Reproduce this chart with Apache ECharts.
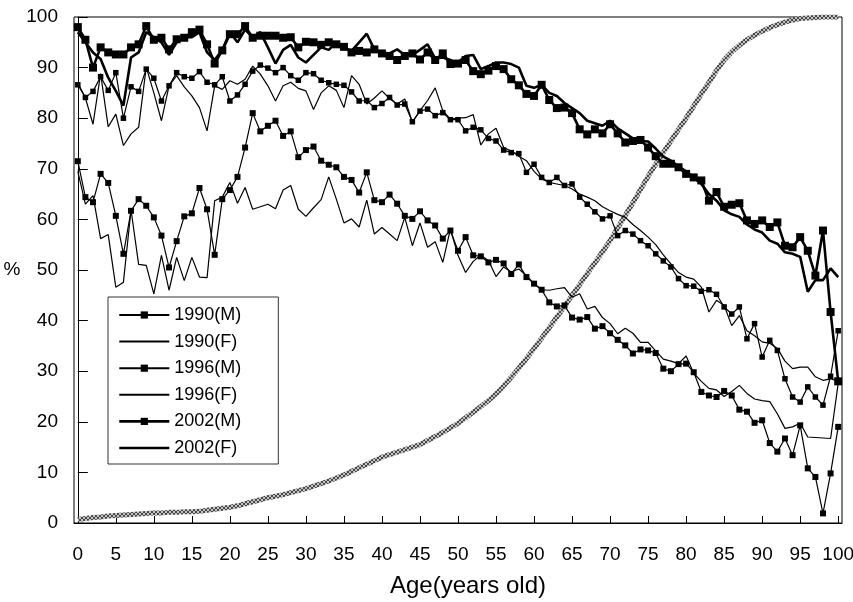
<!DOCTYPE html>
<html>
<head>
<meta charset="utf-8">
<script src="https://cdn.jsdelivr.net/npm/echarts@6/dist/echarts.min.js"></script>
<style>
  html, body { margin: 0; padding: 0; background: #fff; }
  #main { width: 853px; height: 602px; }
</style>
</head>
<body>
<div id="main"></div>
<script>
// ages 0..100
const ages = Array.from({ length: 101 }, (_, i) => i);
const xTicks = [0, 5, 10, 15, 20, 25, 30, 35, 40, 45, 50, 55, 60, 65, 70, 75, 80, 85, 90, 95, 100];

const m1990 = [71.5, 64.4, 63.4, 69, 67.2, 60.7, 53.2, 61.7, 64, 62.7, 60.4, 56.8, 50.5, 55.7, 60.6, 61.2, 66.2, 62, 53, 64,
  65.8, 68.4, 74.2, 81, 77.4, 78.5, 79.5, 76.5, 77.4, 72.3, 73.7, 74.4, 71.6, 70.8, 70.3, 68.4, 67.8, 65.3, 69.3, 63.8,
  63.4, 64.9, 63.1, 60.7, 60.1, 61.6, 59.8, 58.8, 56.2, 57.8, 53.8, 56.5, 52.9, 52.7, 51.5, 52, 51.3, 49.2, 51.1, 48.6,
  47.3, 46.1, 43.6, 42.8, 43, 40.6, 40.2, 40.7, 38.4, 38.9, 37.5, 36.2, 35.1, 33.5, 34.3, 34.1, 33.6, 30.5, 30, 31.4,
  31.5, 29.8, 25.9, 25.2, 24.9, 26.1, 25.2, 22.4, 22, 19.8, 20.3, 15.8, 14.1, 16.7, 13.4, 19.3, 10.8, 9.1, 1.9, 9.8, 19];

const f1990 = [69.5, 63, 64.7, 56.2, 57, 46.6, 47.6, 61.9, 51.1, 50.9, 45.3, 52.9, 46, 52.5, 47.9, 52.5, 48.6, 48.5, 63.7, 64.4,
  67.3, 63.2, 66.3, 62, 62.5, 63, 62.1, 65.8, 66.7, 62, 60.6, 62.3, 63.9, 68.4, 64, 59.3, 60.1, 58.5, 63.8, 57.1,
  58.4, 57.1, 55.8, 60.4, 54.8, 59.3, 54.5, 55.6, 51.5, 58.1, 52.9, 49.5, 51.7, 52.9, 51.9, 48.7, 50.6, 49.6, 50.2, 48.9,
  47.3, 46.1, 46, 46.3, 46.5, 44.6, 45.3, 42.3, 42.8, 40.6, 39.4, 37.4, 38.5, 37.5, 35.7, 35.7, 34, 32.4, 32, 31.5,
  33, 29.6, 28, 26.6, 26.3, 25, 26, 27.2, 25.6, 24.5, 24.2, 24, 21.6, 18.7, 19, 19.7, 17, 16.9, 16.8, 16.7, 27.6];

const m1996 = [86.6, 84.1, 85.3, 88.2, 85.5, 89, 80, 86.2, 85.3, 89.7, 87.9, 83.4, 86.4, 89, 88.2, 87.9, 89.2, 87.1, 86.6, 88.2,
  83.4, 84.6, 86.7, 89.3, 90.5, 89.9, 89, 90, 88.4, 87.5, 89, 88.8, 87.5, 87, 86.7, 86.5, 85.2, 83.4, 83.5, 82.1,
  82.9, 84.1, 82.6, 82.8, 79.3, 81.4, 81.8, 80.5, 81.1, 79.7, 79.7, 77.5, 78.2, 77.7, 76, 75.5, 73.7, 73.2, 73, 69.3,
  70.9, 68.3, 67.3, 68.3, 66.7, 67, 64.4, 63, 61.5, 60.1, 60.7, 56.8, 57.8, 57.1, 55.8, 54.8, 53.2, 51.8, 50.6, 48.3,
  46.9, 46.8, 45.8, 46.1, 45.2, 42.7, 41.3, 42.7, 36.4, 39.4, 32.8, 36.1, 34.1, 28.5, 24.9, 23.9, 26.9, 24.9, 23.3, 29, 38];

const f1996 = [87, 84, 78.8, 88.8, 78.3, 80.8, 74.6, 76.9, 78.2, 90.1, 85, 79.5, 86.4, 88.4, 86.2, 84.4, 82.1, 77.5, 86.4, 85.7,
  87.4, 86.7, 87.7, 90.3, 88.7, 86.4, 83.4, 86.4, 87.1, 85.9, 85.4, 81.7, 85, 86.4, 85.5, 82.1, 88.4, 86.7, 82.8, 84,
  85.4, 83.9, 82.8, 83.8, 79.2, 81.5, 83.5, 86, 81.5, 79.8, 80, 80.1, 80.7, 74.7, 76.9, 78, 74.2, 73.5, 72.5, 71.6,
  69.5, 68, 67.3, 67, 66.7, 66, 65, 64.4, 63.7, 62.5, 61.7, 61, 60.4, 59, 57.8, 56.5, 55, 53, 51.2, 49.5,
  48.6, 48.2, 46.6, 41.7, 44, 43, 39, 41, 38, 37, 35.8, 35.5, 34.5, 32, 30.5, 30.8, 30.8, 28.9, 28.2, 28.5, 28];

const m2002 = [98, 95.5, 90, 94, 93, 92.6, 92.6, 94, 94.6, 98.2, 95.5, 95.9, 93.6, 95.6, 95.9, 97, 97.5, 94.6, 90.8, 93.4,
  96.6, 96.6, 98.2, 95.9, 96.3, 96.3, 96.3, 95.9, 96, 94, 95.1, 95, 94.5, 95, 94.6, 94.1, 93, 93.3, 93, 93.6,
  92.8, 92.3, 91.5, 92.3, 92.8, 91.6, 93, 91.5, 92.8, 90.7, 90.8, 91.5, 89.3, 88.7, 89.4, 90.3, 89.7, 87.7, 86.5, 84.8,
  84.4, 86.6, 83.6, 82, 82.1, 81, 77.8, 76.8, 77.8, 77, 78.8, 77, 75.2, 75.5, 75.7, 74.2, 72.5, 71, 71, 70.3,
  69, 68.3, 67.7, 63.7, 65.4, 62.5, 62.9, 63.2, 59.8, 59.1, 59.8, 58.5, 59.4, 54.8, 54.5, 56.5, 53.8, 48.9, 57.8, 41.7, 28];

const f2002 = [97, 95, 93, 91.7, 88, 85.4, 82.5, 92, 93, 97, 96, 95, 92.5, 95, 96, 96, 97, 93, 91.5, 93.5,
  97, 95, 97.5, 96, 97, 94, 90.8, 93.5, 94.5, 92, 91, 92.5, 94, 93.5, 95, 94, 93.3, 95, 96.7, 93.6,
  93, 92.8, 93.6, 92.5, 92.5, 93.5, 94.6, 91.8, 92, 91.5, 91, 92.3, 92.5, 89.7, 90.3, 91, 91, 90.7, 90, 86.4,
  86, 86.6, 85, 84.4, 83, 82, 81, 79.5, 79, 78.5, 79.5, 78, 77, 76, 75.5, 75.4, 74, 72.4, 71.6, 70.5,
  69.5, 68.3, 67, 65, 63.7, 61.8, 61, 60.5, 59, 58, 57.4, 55.8, 55.2, 53.5, 53.2, 52.6, 45.7, 48, 48, 50.3, 48.6];

// gray reference curve
const grayCurve = [0.7, 0.9, 1.1, 1.2, 1.4, 1.5, 1.6, 1.7, 1.8, 1.9, 2.0, 2.0, 2.1, 2.1, 2.2, 2.2, 2.3, 2.5, 2.7, 2.9,
  3.1, 3.4, 3.8, 4.2, 4.6, 5.0, 5.3, 5.6, 6.0, 6.4, 6.8, 7.3, 7.8, 8.3, 8.9, 9.5, 10.2, 10.9, 11.6, 12.3,
  13.0, 13.5, 14.0, 14.5, 15.0, 15.5, 16.3, 17.1, 17.9, 18.8, 19.7, 20.8, 21.9, 23.0, 24.2, 25.5, 27.1, 28.8, 30.6, 32.5,
  34.5, 36.5, 38.6, 40.7, 42.8, 45.0, 47.1, 49.3, 51.4, 53.6, 55.8, 58.3, 60.8, 63.3, 65.9, 68.5, 70.9, 73.2, 75.5, 77.8,
  80.0, 82.4, 84.8, 87.1, 89.4, 91.5, 93.1, 94.4, 95.5, 96.4, 97.2, 97.9, 98.5, 99.0, 99.4, 99.7, 99.8, 99.9, 100, 100, 100];

const pts = arr => ages.map((a, i) => [a, arr[i]]);

// hatched texture for the gray curve
function hatch() {
  const c = document.createElement('canvas');
  c.width = 4; c.height = 4;
  const g = c.getContext('2d');
  g.fillStyle = '#c4c4c4';
  g.fillRect(0, 0, 4, 4);
  g.fillStyle = '#484848';
  for (let i = 0; i < 4; i++) {
    g.fillRect(i, i, 1, 1);
    g.fillRect(3 - i, i, 1, 1);
  }
  return c;
}

const font = '"Liberation Sans", Arial, sans-serif';

function thin(name, arr, marker, size) {
  return {
    name: name, type: 'line', data: pts(arr),
    symbol: marker ? 'rect' : 'none', symbolSize: size || 6, showSymbol: marker,
    itemStyle: { color: '#000' },
    lineStyle: { color: '#000', width: 1.2 }
  };
}
function thick(name, arr, marker) {
  return {
    name: name, type: 'line', data: pts(arr),
    symbol: marker ? 'rect' : 'none', symbolSize: 8, showSymbol: marker,
    itemStyle: { color: '#000' },
    lineStyle: { color: '#000', width: 2.6 }
  };
}

// no marker in legend for the female series
const noMark = { color: 'rgba(0,0,0,0)', borderWidth: 0 };

const chart = echarts.init(document.getElementById('main'));
chart.setOption({
  animation: false,
  backgroundColor: '#fff',
  grid: {
    left: 74, right: 11, top: 17, bottom: 79,
    outerBoundsMode: 'none',
    show: true, borderColor: '#000', borderWidth: 1, backgroundColor: 'transparent'
  },
  legend: {
    orient: 'vertical',
    left: 108, top: 297,
    itemWidth: 50, itemHeight: 9, itemGap: 8.6,
    padding: [9, 37, 7, 10],
    borderColor: '#333', borderWidth: 1,
    backgroundColor: '#fff',
    textStyle: { fontFamily: font, fontSize: 18, lineHeight: 18, color: '#000' },
    data: [
      { name: '1990(M)' },
      { name: '1990(F)', itemStyle: noMark },
      { name: '1996(M)' },
      { name: '1996(F)', itemStyle: noMark },
      { name: '2002(M)', lineStyle: { width: 2.6 } },
      { name: '2002(F)', itemStyle: noMark, lineStyle: { width: 2.6 } }
    ]
  },
  xAxis: {
    type: 'value', min: -0.5, max: 100.5,
    name: 'Age(years old)', nameLocation: 'middle', nameGap: 51,
    nameTextStyle: { fontFamily: font, fontSize: 24, color: '#000', padding: [0, 0, 0, 20] },
    axisLine: { lineStyle: { color: '#000', width: 1 } },
    axisTick: { inside: true, length: 7, lineStyle: { color: '#000' }, customValues: xTicks },
    axisLabel: { customValues: xTicks, margin: 22, fontFamily: font, fontSize: 19, color: '#000' },
    splitLine: { show: false }
  },
  yAxis: {
    type: 'value', min: 0, max: 100, interval: 10,
    name: '%', nameLocation: 'middle', nameGap: 47, nameRotate: 0,
    nameTextStyle: { fontFamily: font, fontSize: 19, color: '#000' },
    axisLine: { show: true, lineStyle: { color: '#000', width: 1 } },
    axisTick: { show: true, inside: true, length: 10, lineStyle: { color: '#000' } },
    axisLabel: { margin: 16, fontFamily: font, fontSize: 19, color: '#000' },
    splitLine: { show: false }
  },
  series: [
    thin('1990(M)', m1990, true, 6),
    thin('1990(F)', f1990, false),
    thin('1996(M)', m1996, true, 5.5),
    thin('1996(F)', f1996, false),
    thick('2002(M)', m2002, true),
    thick('2002(F)', f2002, false),
    {
      name: 'ref', type: 'line', data: pts(grayCurve), symbol: 'none', showSymbol: false,
      lineStyle: { width: 5, color: { image: hatch(), repeat: 'repeat' } },
      z: 1
    }
  ]
});
</script>
</body>
</html>
